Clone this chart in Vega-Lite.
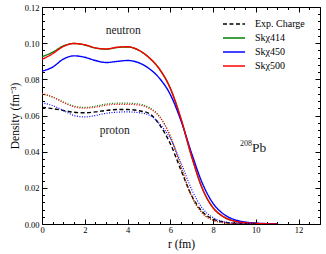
{
  "$schema": "https://vega.github.io/schema/vega-lite/v6.json",
  "width": 278,
  "height": 217,
  "autosize": "none",
  "padding": {"left": 42, "top": 7, "right": 6, "bottom": 30},
  "background": "white",
  "config": {
    "view": {"stroke": "black", "strokeWidth": 1},
    "axis": {
      "grid": false,
      "domain": false,
      "tickColor": "black",
      "labelColor": "black",
      "titleColor": "black",
      "labelFont": "Liberation Serif",
      "titleFont": "Liberation Serif",
      "labelFontSize": 8.5,
      "titleFontSize": 11.5,
      "titleFontWeight": "normal",
      "labelOverlap": false,
      "labelFlush": false
    },
    "text": {"font": "Liberation Serif", "color": "black"}
  },
  "datasets": {
    "curves": [
      {"r": 0, "d": 0.0925, "s": "Skχ414", "p": "neutron"},
      {"r": 0.5, "d": 0.0950, "s": "Skχ414", "p": "neutron"},
      {"r": 1, "d": 0.0985, "s": "Skχ414", "p": "neutron"},
      {"r": 1.5, "d": 0.0998, "s": "Skχ414", "p": "neutron"},
      {"r": 2, "d": 0.0990, "s": "Skχ414", "p": "neutron"},
      {"r": 2.5, "d": 0.0973, "s": "Skχ414", "p": "neutron"},
      {"r": 3, "d": 0.0967, "s": "Skχ414", "p": "neutron"},
      {"r": 3.5, "d": 0.0976, "s": "Skχ414", "p": "neutron"},
      {"r": 4, "d": 0.0979, "s": "Skχ414", "p": "neutron"},
      {"r": 4.5, "d": 0.0962, "s": "Skχ414", "p": "neutron"},
      {"r": 5, "d": 0.0920, "s": "Skχ414", "p": "neutron"},
      {"r": 5.5, "d": 0.0855, "s": "Skχ414", "p": "neutron"},
      {"r": 6, "d": 0.0750, "s": "Skχ414", "p": "neutron"},
      {"r": 6.5, "d": 0.0580, "s": "Skχ414", "p": "neutron"},
      {"r": 7, "d": 0.0372, "s": "Skχ414", "p": "neutron"},
      {"r": 7.5, "d": 0.0195, "s": "Skχ414", "p": "neutron"},
      {"r": 8, "d": 0.0090, "s": "Skχ414", "p": "neutron"},
      {"r": 8.5, "d": 0.0039, "s": "Skχ414", "p": "neutron"},
      {"r": 9, "d": 0.0016, "s": "Skχ414", "p": "neutron"},
      {"r": 9.5, "d": 0.0007, "s": "Skχ414", "p": "neutron"},
      {"r": 10, "d": 0.0003, "s": "Skχ414", "p": "neutron"},
      {"r": 11, "d": 0.0, "s": "Skχ414", "p": "neutron"},

      {"r": 0, "d": 0.0845, "s": "Skχ450", "p": "neutron"},
      {"r": 0.5, "d": 0.0868, "s": "Skχ450", "p": "neutron"},
      {"r": 1, "d": 0.0912, "s": "Skχ450", "p": "neutron"},
      {"r": 1.5, "d": 0.0930, "s": "Skχ450", "p": "neutron"},
      {"r": 2, "d": 0.0922, "s": "Skχ450", "p": "neutron"},
      {"r": 2.5, "d": 0.0904, "s": "Skχ450", "p": "neutron"},
      {"r": 3, "d": 0.0893, "s": "Skχ450", "p": "neutron"},
      {"r": 3.5, "d": 0.0899, "s": "Skχ450", "p": "neutron"},
      {"r": 4, "d": 0.0904, "s": "Skχ450", "p": "neutron"},
      {"r": 4.5, "d": 0.0893, "s": "Skχ450", "p": "neutron"},
      {"r": 5, "d": 0.0860, "s": "Skχ450", "p": "neutron"},
      {"r": 5.5, "d": 0.0805, "s": "Skχ450", "p": "neutron"},
      {"r": 6, "d": 0.0716, "s": "Skχ450", "p": "neutron"},
      {"r": 6.5, "d": 0.0571, "s": "Skχ450", "p": "neutron"},
      {"r": 7, "d": 0.0390, "s": "Skχ450", "p": "neutron"},
      {"r": 7.5, "d": 0.0225, "s": "Skχ450", "p": "neutron"},
      {"r": 8, "d": 0.0114, "s": "Skχ450", "p": "neutron"},
      {"r": 8.5, "d": 0.0054, "s": "Skχ450", "p": "neutron"},
      {"r": 9, "d": 0.0024, "s": "Skχ450", "p": "neutron"},
      {"r": 9.5, "d": 0.0011, "s": "Skχ450", "p": "neutron"},
      {"r": 10, "d": 0.0005, "s": "Skχ450", "p": "neutron"},
      {"r": 11, "d": 0.0001, "s": "Skχ450", "p": "neutron"},

      {"r": 0, "d": 0.0910, "s": "Skχ500", "p": "neutron"},
      {"r": 0.5, "d": 0.0942, "s": "Skχ500", "p": "neutron"},
      {"r": 1, "d": 0.0982, "s": "Skχ500", "p": "neutron"},
      {"r": 1.5, "d": 0.0998, "s": "Skχ500", "p": "neutron"},
      {"r": 2, "d": 0.0991, "s": "Skχ500", "p": "neutron"},
      {"r": 2.5, "d": 0.0974, "s": "Skχ500", "p": "neutron"},
      {"r": 3, "d": 0.0968, "s": "Skχ500", "p": "neutron"},
      {"r": 3.5, "d": 0.0977, "s": "Skχ500", "p": "neutron"},
      {"r": 4, "d": 0.0980, "s": "Skχ500", "p": "neutron"},
      {"r": 4.5, "d": 0.0963, "s": "Skχ500", "p": "neutron"},
      {"r": 5, "d": 0.0921, "s": "Skχ500", "p": "neutron"},
      {"r": 5.5, "d": 0.0856, "s": "Skχ500", "p": "neutron"},
      {"r": 6, "d": 0.0751, "s": "Skχ500", "p": "neutron"},
      {"r": 6.5, "d": 0.0582, "s": "Skχ500", "p": "neutron"},
      {"r": 7, "d": 0.0373, "s": "Skχ500", "p": "neutron"},
      {"r": 7.5, "d": 0.0196, "s": "Skχ500", "p": "neutron"},
      {"r": 8, "d": 0.0090, "s": "Skχ500", "p": "neutron"},
      {"r": 8.5, "d": 0.0039, "s": "Skχ500", "p": "neutron"},
      {"r": 9, "d": 0.0016, "s": "Skχ500", "p": "neutron"},
      {"r": 9.5, "d": 0.0007, "s": "Skχ500", "p": "neutron"},
      {"r": 10, "d": 0.0003, "s": "Skχ500", "p": "neutron"},
      {"r": 11, "d": 0.0, "s": "Skχ500", "p": "neutron"},

      {"r": 0, "d": 0.0645, "s": "Exp. Charge", "p": "neutron"},
      {"r": 0.5, "d": 0.0638, "s": "Exp. Charge", "p": "neutron"},
      {"r": 1, "d": 0.0628, "s": "Exp. Charge", "p": "neutron"},
      {"r": 1.5, "d": 0.0618, "s": "Exp. Charge", "p": "neutron"},
      {"r": 2, "d": 0.0615, "s": "Exp. Charge", "p": "neutron"},
      {"r": 2.5, "d": 0.0620, "s": "Exp. Charge", "p": "neutron"},
      {"r": 3, "d": 0.0628, "s": "Exp. Charge", "p": "neutron"},
      {"r": 3.5, "d": 0.0633, "s": "Exp. Charge", "p": "neutron"},
      {"r": 4, "d": 0.0633, "s": "Exp. Charge", "p": "neutron"},
      {"r": 4.5, "d": 0.0627, "s": "Exp. Charge", "p": "neutron"},
      {"r": 5, "d": 0.0612, "s": "Exp. Charge", "p": "neutron"},
      {"r": 5.5, "d": 0.0548, "s": "Exp. Charge", "p": "neutron"},
      {"r": 6, "d": 0.0444, "s": "Exp. Charge", "p": "neutron"},
      {"r": 6.5, "d": 0.0297, "s": "Exp. Charge", "p": "neutron"},
      {"r": 7, "d": 0.0156, "s": "Exp. Charge", "p": "neutron"},
      {"r": 7.5, "d": 0.0068, "s": "Exp. Charge", "p": "neutron"},
      {"r": 8, "d": 0.0027, "s": "Exp. Charge", "p": "neutron"},
      {"r": 8.5, "d": 0.0010, "s": "Exp. Charge", "p": "neutron"},
      {"r": 9, "d": 0.0004, "s": "Exp. Charge", "p": "neutron"},
      {"r": 10, "d": 0.0001, "s": "Exp. Charge", "p": "neutron"},

      {"r": 0, "d": 0.0718, "s": "Skχ414", "p": "proton"},
      {"r": 0.5, "d": 0.0702, "s": "Skχ414", "p": "proton"},
      {"r": 1, "d": 0.0675, "s": "Skχ414", "p": "proton"},
      {"r": 1.5, "d": 0.0652, "s": "Skχ414", "p": "proton"},
      {"r": 2, "d": 0.0645, "s": "Skχ414", "p": "proton"},
      {"r": 2.5, "d": 0.0652, "s": "Skχ414", "p": "proton"},
      {"r": 3, "d": 0.0663, "s": "Skχ414", "p": "proton"},
      {"r": 3.5, "d": 0.0668, "s": "Skχ414", "p": "proton"},
      {"r": 4, "d": 0.0668, "s": "Skχ414", "p": "proton"},
      {"r": 4.5, "d": 0.0664, "s": "Skχ414", "p": "proton"},
      {"r": 5, "d": 0.0645, "s": "Skχ414", "p": "proton"},
      {"r": 5.5, "d": 0.0595, "s": "Skχ414", "p": "proton"},
      {"r": 6, "d": 0.0487, "s": "Skχ414", "p": "proton"},
      {"r": 6.5, "d": 0.0315, "s": "Skχ414", "p": "proton"},
      {"r": 7, "d": 0.0152, "s": "Skχ414", "p": "proton"},
      {"r": 7.5, "d": 0.0060, "s": "Skχ414", "p": "proton"},
      {"r": 8, "d": 0.0021, "s": "Skχ414", "p": "proton"},
      {"r": 8.5, "d": 0.0007, "s": "Skχ414", "p": "proton"},
      {"r": 9, "d": 0.0002, "s": "Skχ414", "p": "proton"},
      {"r": 10, "d": 0.0, "s": "Skχ414", "p": "proton"},

      {"r": 0, "d": 0.0670, "s": "Skχ450", "p": "proton"},
      {"r": 0.5, "d": 0.0655, "s": "Skχ450", "p": "proton"},
      {"r": 1, "d": 0.0628, "s": "Skχ450", "p": "proton"},
      {"r": 1.5, "d": 0.0600, "s": "Skχ450", "p": "proton"},
      {"r": 2, "d": 0.0592, "s": "Skχ450", "p": "proton"},
      {"r": 2.5, "d": 0.0600, "s": "Skχ450", "p": "proton"},
      {"r": 3, "d": 0.0612, "s": "Skχ450", "p": "proton"},
      {"r": 3.5, "d": 0.0618, "s": "Skχ450", "p": "proton"},
      {"r": 4, "d": 0.0620, "s": "Skχ450", "p": "proton"},
      {"r": 4.5, "d": 0.0616, "s": "Skχ450", "p": "proton"},
      {"r": 5, "d": 0.0603, "s": "Skχ450", "p": "proton"},
      {"r": 5.5, "d": 0.0554, "s": "Skχ450", "p": "proton"},
      {"r": 6, "d": 0.0473, "s": "Skχ450", "p": "proton"},
      {"r": 6.5, "d": 0.0338, "s": "Skχ450", "p": "proton"},
      {"r": 7, "d": 0.0191, "s": "Skχ450", "p": "proton"},
      {"r": 7.5, "d": 0.0087, "s": "Skχ450", "p": "proton"},
      {"r": 8, "d": 0.0035, "s": "Skχ450", "p": "proton"},
      {"r": 8.5, "d": 0.0013, "s": "Skχ450", "p": "proton"},
      {"r": 9, "d": 0.0005, "s": "Skχ450", "p": "proton"},
      {"r": 10, "d": 0.0001, "s": "Skχ450", "p": "proton"},

      {"r": 0, "d": 0.0722, "s": "Skχ500", "p": "proton"},
      {"r": 0.5, "d": 0.0702, "s": "Skχ500", "p": "proton"},
      {"r": 1, "d": 0.0672, "s": "Skχ500", "p": "proton"},
      {"r": 1.5, "d": 0.0648, "s": "Skχ500", "p": "proton"},
      {"r": 2, "d": 0.0640, "s": "Skχ500", "p": "proton"},
      {"r": 2.5, "d": 0.0646, "s": "Skχ500", "p": "proton"},
      {"r": 3, "d": 0.0657, "s": "Skχ500", "p": "proton"},
      {"r": 3.5, "d": 0.0662, "s": "Skχ500", "p": "proton"},
      {"r": 4, "d": 0.0662, "s": "Skχ500", "p": "proton"},
      {"r": 4.5, "d": 0.0658, "s": "Skχ500", "p": "proton"},
      {"r": 5, "d": 0.0640, "s": "Skχ500", "p": "proton"},
      {"r": 5.5, "d": 0.0592, "s": "Skχ500", "p": "proton"},
      {"r": 6, "d": 0.0485, "s": "Skχ500", "p": "proton"},
      {"r": 6.5, "d": 0.0315, "s": "Skχ500", "p": "proton"},
      {"r": 7, "d": 0.0153, "s": "Skχ500", "p": "proton"},
      {"r": 7.5, "d": 0.0060, "s": "Skχ500", "p": "proton"},
      {"r": 8, "d": 0.0021, "s": "Skχ500", "p": "proton"},
      {"r": 8.5, "d": 0.0007, "s": "Skχ500", "p": "proton"},
      {"r": 9, "d": 0.0002, "s": "Skχ500", "p": "proton"},
      {"r": 10, "d": 0.0, "s": "Skχ500", "p": "proton"}
    ],
    "labels": [
      {"r": 3.8, "d": 0.107, "t": "neutron"},
      {"r": 3.4, "d": 0.0515, "t": "proton"}
    ],
    "nucleus": [
      {"r": 9.82, "d": 0.040, "a": "208", "b": "Pb"}
    ]
  },
  "resolve": {"axis": {"x": "independent", "y": "independent"}},
  "layer": [
    {
      "data": {"name": "curves"},
      "transform": [{"filter": "datum.p === 'neutron'"}],
      "mark": {"type": "line", "interpolate": "monotone", "strokeWidth": 1.4, "clip": true},
      "encoding": {
        "x": {
          "field": "r", "type": "quantitative",
          "scale": {"domain": [0, 13], "nice": false, "zero": false},
          "axis": {
            "orient": "bottom",
            "title": "r (fm)",
            "values": [0,0.5,1,1.5,2,2.5,3,3.5,4,4.5,5,5.5,6,6.5,7,7.5,8,8.5,9,9.5,10,10.5,11,11.5,12,12.5,13],
            "labelExpr": "datum.value % 2 === 0 && datum.value < 13 ? format(datum.value, 'd') : ''",
            "tickSize": {"condition": {"test": "datum.value % 2 === 0", "value": -5}, "value": -2.5},
            "labelPadding": 6,
            "titlePadding": 2
          }
        },
        "y": {
          "field": "d", "type": "quantitative",
          "scale": {"domain": [0, 0.12], "nice": false},
          "axis": {
            "orient": "left",
            "title": "Density (fm⁻³)",
            "values": [0,0.004,0.008,0.012,0.016,0.02,0.024,0.028,0.032,0.036,0.04,0.044,0.048,0.052,0.056,0.06,0.064,0.068,0.072,0.076,0.08,0.084,0.088,0.092,0.096,0.1,0.104,0.108,0.112,0.116,0.12],
            "labelExpr": "abs(datum.value*50 - round(datum.value*50)) < 1e-6 ? format(datum.value, '.2f') : ''",
            "tickSize": {"condition": {"test": "abs(datum.value*50 - round(datum.value*50)) < 1e-6", "value": -5}, "value": -2.5},
            "labelPadding": 8,
            "titlePadding": 4
          }
        },
        "color": {
          "field": "s", "type": "nominal",
          "scale": {"domain": ["Exp. Charge", "Skχ414", "Skχ450", "Skχ500"], "range": ["black", "green", "blue", "red"]},
          "legend": {
            "title": null,
            "orient": "none",
            "legendX": 184,
            "legendY": 9,
            "padding": 0,
            "labelFont": "Liberation Serif",
            "labelFontSize": 10,
            "labelColor": "black",
            "symbolType": "M-1.6,0H1.6",
            "symbolSize": 190,
            "symbolStrokeWidth": 1.5,
            "symbolFillColor": "transparent",
            "labelOffset": 13,
            "rowPadding": 1
          }
        },
        "strokeDash": {
          "field": "s", "type": "nominal",
          "scale": {"domain": ["Exp. Charge", "Skχ414", "Skχ450", "Skχ500"], "range": [[4, 2.5], [1, 0], [1, 0], [1, 0]]},
          "legend": {
            "title": null,
            "orient": "none",
            "legendX": 184,
            "legendY": 9,
            "padding": 0,
            "labelFont": "Liberation Serif",
            "labelFontSize": 10,
            "labelColor": "black",
            "symbolType": "M-1.6,0H1.6",
            "symbolSize": 190,
            "symbolStrokeWidth": 1.5,
            "symbolFillColor": "transparent",
            "labelOffset": 13,
            "rowPadding": 1
          }
        }
      }
    },
    {
      "data": {"name": "curves"},
      "transform": [{"filter": "datum.p === 'proton'"}],
      "mark": {"type": "line", "interpolate": "monotone", "strokeWidth": 1.2, "strokeDash": [1, 1.5], "clip": true},
      "encoding": {
        "x": {
          "field": "r", "type": "quantitative",
          "axis": {
            "orient": "top",
            "title": null,
            "values": [0,0.5,1,1.5,2,2.5,3,3.5,4,4.5,5,5.5,6,6.5,7,7.5,8,8.5,9,9.5,10,10.5,11,11.5,12,12.5,13],
            "labels": false,
            "tickSize": {"condition": {"test": "datum.value % 2 === 0", "value": -5}, "value": -2.5}
          }
        },
        "y": {
          "field": "d", "type": "quantitative",
          "axis": {
            "orient": "right",
            "title": null,
            "values": [0,0.004,0.008,0.012,0.016,0.02,0.024,0.028,0.032,0.036,0.04,0.044,0.048,0.052,0.056,0.06,0.064,0.068,0.072,0.076,0.08,0.084,0.088,0.092,0.096,0.1,0.104,0.108,0.112,0.116,0.12],
            "labels": false,
            "tickSize": {"condition": {"test": "abs(datum.value*50 - round(datum.value*50)) < 1e-6", "value": -5}, "value": -2.5}
          }
        },
        "color": {"field": "s", "type": "nominal"}
      }
    },
    {
      "data": {"name": "labels"},
      "mark": {"type": "text", "fontSize": 11.5, "align": "center", "baseline": "middle", "color": "#222"},
      "encoding": {
        "x": {"field": "r", "type": "quantitative", "axis": null},
        "y": {"field": "d", "type": "quantitative", "axis": null},
        "text": {"field": "t"}
      }
    },
    {
      "data": {"name": "nucleus"},
      "mark": {"type": "text", "fontSize": 8, "align": "right", "baseline": "alphabetic", "dy": -6, "color": "#222"},
      "encoding": {
        "x": {"field": "r", "type": "quantitative", "axis": null},
        "y": {"field": "d", "type": "quantitative", "axis": null},
        "text": {"field": "a"}
      }
    },
    {
      "data": {"name": "nucleus"},
      "mark": {"type": "text", "fontSize": 13.5, "align": "left", "baseline": "alphabetic", "color": "#222"},
      "encoding": {
        "x": {"field": "r", "type": "quantitative", "axis": null},
        "y": {"field": "d", "type": "quantitative", "axis": null},
        "text": {"field": "b"}
      }
    }
  ]
}
